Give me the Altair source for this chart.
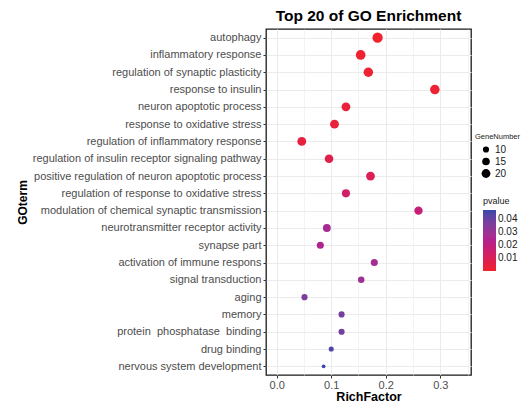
import altair as alt
import pandas as pd

terms = [
    "autophagy",
    "inflammatory response",
    "regulation of synaptic plasticity",
    "response to insulin",
    "neuron apoptotic process",
    "response to oxidative stress",
    "regulation of inflammatory response",
    "regulation of insulin receptor signaling pathway",
    "positive regulation of neuron apoptotic process",
    "regulation of response to oxidative stress",
    "modulation of chemical synaptic transmission",
    "neurotransmitter receptor activity",
    "synapse part",
    "activation of immune respons",
    "signal transduction",
    "aging",
    "memory",
    "protein\u00a0 phosphatase\u00a0 binding",
    "drug binding",
    "nervous system development",
]
rich_factor = [0.185, 0.154, 0.168, 0.290, 0.127, 0.106, 0.046, 0.096, 0.172, 0.127,
               0.260, 0.092, 0.080, 0.179, 0.155, 0.051, 0.119, 0.119, 0.100, 0.086]
gene_number = [27, 24, 23, 23, 20, 20, 20, 19, 20, 17,
               18, 16, 13, 13, 11, 10, 10, 10, 7, 4]
pvalue = [0.0003, 0.0012, 0.0015, 0.0018, 0.0035, 0.0040, 0.0045, 0.0075, 0.0090, 0.0140,
          0.0180, 0.0270, 0.0250, 0.0270, 0.0290, 0.0360, 0.0380, 0.0380, 0.0440, 0.0470]
x_ticks = [0.0, 0.05, 0.1, 0.15, 0.2, 0.25, 0.3, 0.35]

df = pd.DataFrame({
    "GOterm": terms,
    "RichFactor": rich_factor,
    "GeneNumber": gene_number,
    "pvalue": pvalue,
})

minor_test = "round(datum.value*100) % 10 != 0"
p_lo, p_hi = min(pvalue), max(pvalue)

chart = alt.Chart(df).mark_circle(opacity=1).encode(
    x=alt.X(
        "RichFactor:Q",
        title="RichFactor",
        scale=alt.Scale(domain=[-0.0196, 0.3563], nice=False, zero=False),
        axis=alt.Axis(
            values=x_ticks,
            labelExpr="round(datum.value*100) % 10 == 0 ? format(datum.value, '.1f') : ''",
            gridWidth={"condition": {"test": minor_test, "value": 0.6}, "value": 1.1},
            tickOpacity={"condition": {"test": minor_test, "value": 0}, "value": 1},
            labelPadding=1,
            titleFontSize=12.5,
            titleY=21,
            titleBaseline="middle",
        ),
    ),
    y=alt.Y(
        "GOterm:N",
        sort=terms,
        title="GOterm",
        axis=alt.Axis(
            labelPadding=2,
            labelLimit=0,
            titleFontSize=12,
            titleX=-244,
            titleBaseline="middle",
            gridWidth=1.1,
        ),
    ),
    size=alt.Size(
        "GeneNumber:Q",
        scale=alt.Scale(domain=[10, 20], range=[38, 78]),
        legend=alt.Legend(
            values=[10, 15, 20],
            orient="none",
            legendX=209,
            legendY=104,
            symbolFillColor="black",
            symbolStrokeWidth=0,
            symbolType="circle",
            symbolOffset=6,
            rowPadding=2,
            titleLimit=0,
            titleFontSize=7.5,
        ),
    ),
    color=alt.Color(
        "pvalue:Q",
        scale=alt.Scale(domain=[p_lo, (p_lo + p_hi) / 2, p_hi],
                        range=["#f0222c", "#b4208e", "#3848aa"],
                        interpolate="lab", nice=False, zero=False),
        legend=alt.Legend(
            values=[0.01, 0.02, 0.03, 0.04],
            format=".2f",
            orient="none",
            legendX=217,
            legendY=168,
            gradientLength=61,
            gradientThickness=13,
            gradientStrokeWidth=0,
        ),
    ),
).properties(
    width=205,
    height=346,
    title=alt.TitleParams("Top 20 of GO Enrichment", fontSize=15.5, fontWeight="bold",
                          color="black", anchor="middle", offset=5),
    autosize=alt.AutoSizeParams(type="none"),
    padding={"left": 258, "top": 21, "right": 50, "bottom": 28},
).configure(
    font="Liberation Sans",
    background="white",
).configure_view(
    stroke="#1a1a1a",
    strokeWidth=1.3,
).configure_axis(
    domain=False,
    grid=True,
    gridColor="#ebebeb",
    tickColor="#333333",
    tickSize=3,
    labelColor="#4d4d4d",
    labelFontSize=11,
    labelFont="Liberation Sans",
    titleColor="black",
    titleFontWeight="bold",
    titleFont="Liberation Sans",
).configure_legend(
    titleFontSize=9,
    titleFontWeight="normal",
    titleColor="#1a1a1a",
    labelFontSize=10,
    labelColor="#1a1a1a",
    titlePadding=4,
)

chart.save("out.html", embed_options={"renderer": "svg", "actions": False})
